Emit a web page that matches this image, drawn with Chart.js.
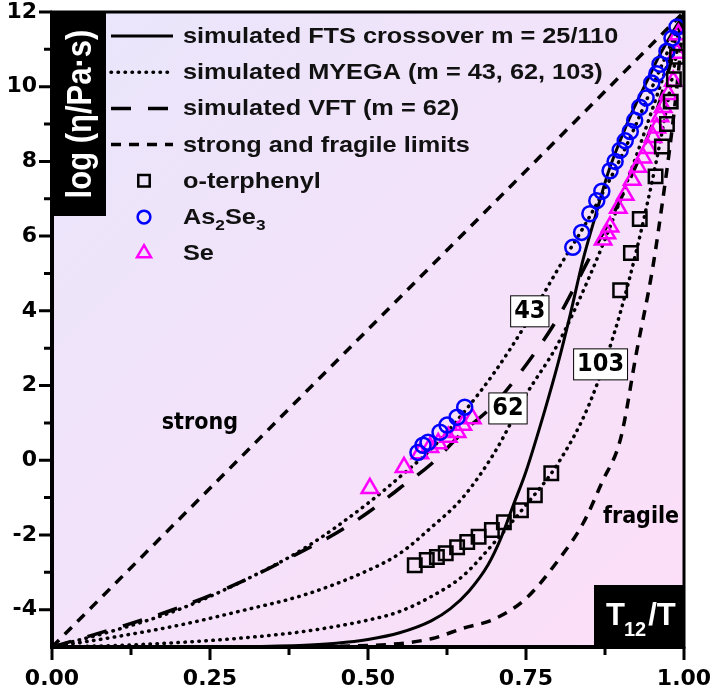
<!DOCTYPE html>
<html>
<head>
<meta charset="utf-8">
<script src="https://cdn.jsdelivr.net/npm/chart.js@4.4.1/dist/chart.umd.min.js"></script>
<style>
  html, body { margin: 0; padding: 0; background: #ffffff; }
  #wrap { width: 713px; height: 690px; }
</style>
</head>
<body>
<div id="wrap"><canvas id="chart" width="713" height="690"></canvas></div>
<script>
// axis ticks
const xTicks = [0, 0.25, 0.5, 0.75, 1];
const xTickLabels = ["0.00", "0.25", "0.50", "0.75", "1.00"];
const xMinorTicks = [0.125, 0.375, 0.625, 0.875];
const yTicks = [-4, -2, 0, 2, 4, 6, 8, 10, 12];
const yMinorTicks = [-3, -1, 1, 3, 5, 7, 9, 11];

// simulated curves
const ftsX = [0, 0.2, 0.3, 0.4, 0.45, 0.5, 0.55, 0.6, 0.63, 0.66, 0.69, 0.71, 0.73, 0.75, 0.78, 0.8, 0.82, 0.84, 0.86, 0.88, 0.9, 0.92, 0.94, 0.96, 0.98, 1.0];
const ftsY = [-5, -5, -4.99, -4.95, -4.9, -4.8, -4.62, -4.3, -3.98, -3.5, -2.8, -2.1, -1.2, -0.3, 1.35, 2.55, 3.9, 5.35, 6.55, 7.7, 8.6, 9.4, 10.1, 10.8, 11.4, 11.95];

const myega43X = [0, 0.1, 0.2, 0.3, 0.4, 0.5, 0.55, 0.6, 0.65, 0.7, 0.75, 0.8, 0.85, 0.9, 0.95, 1.0];
const myega43Y = [-5, -4.55, -4.0, -3.25, -2.35, -1.15, -0.45, 0.3, 1.25, 2.35, 3.65, 5.1, 6.5, 8.1, 10.0, 11.95];

const myega62X = [0, 0.1, 0.2, 0.3, 0.4, 0.5, 0.55, 0.6, 0.65, 0.7, 0.75, 0.8, 0.85, 0.9, 0.95, 1.0];
const myega62Y = [-5, -4.73, -4.42, -4.03, -3.6, -2.95, -2.5, -1.8, -1.0, 0.2, 1.75, 3.1, 4.9, 7.0, 9.4, 11.95];

const myega103X = [0, 0.1, 0.2, 0.3, 0.4, 0.5, 0.55, 0.6, 0.65, 0.7, 0.75, 0.8, 0.85, 0.9, 0.95, 1.0];
const myega103Y = [-5, -4.96, -4.88, -4.76, -4.58, -4.28, -4.05, -3.65, -3.1, -2.2, -1.2, -0.1, 1.5, 4.0, 7.5, 11.95];

const vftX = [0, 0.1, 0.2, 0.3, 0.4, 0.45, 0.5, 0.55, 0.6, 0.65, 0.7, 0.75, 0.8, 0.85, 0.9, 0.95, 0.975, 1.0];
const vftY = [-5, -4.5, -3.95, -3.25, -2.4, -1.95, -1.4, -0.75, -0.1, 0.75, 1.5, 2.55, 3.8, 5.4, 7.0, 9.0, 10.4, 11.95];

const strongX = [0, 0.5, 1.0];
const strongY = [-5, 3.5, 12];

const fragileX = [0, 0.3, 0.5, 0.6, 0.65, 0.7, 0.75, 0.8, 0.84, 0.87, 0.9, 0.925, 0.95, 0.965, 0.98, 0.99, 1.0];
const fragileY = [-5, -5, -4.96, -4.78, -4.5, -4.25, -3.7, -2.7, -1.7, -0.6, 0.6, 2.9, 5.1, 6.8, 8.7, 10.2, 12];

// measured data
const oTerphenylX = [0.574, 0.593, 0.609, 0.623, 0.641, 0.657, 0.675, 0.696, 0.715, 0.742, 0.764, 0.790, 0.899, 0.916, 0.930, 0.955, 0.965, 0.973, 0.979, 0.984, 0.989];
const oTerphenylY = [-2.81, -2.67, -2.59, -2.49, -2.33, -2.19, -2.05, -1.87, -1.66, -1.34, -0.94, -0.35, 4.55, 5.55, 6.46, 7.6, 8.4, 9.0, 9.6, 10.2, 10.8];

const as2se3X = [0.579, 0.587, 0.595, 0.614, 0.625, 0.641, 0.653, 0.824, 0.838, 0.851, 0.862, 0.870, 0.883, 0.891, 0.899, 0.907, 0.915, 0.922, 0.930, 0.940, 0.949, 0.957, 0.962, 0.973, 0.981, 0.989];
const as2se3Y = [0.21, 0.40, 0.48, 0.75, 0.94, 1.15, 1.42, 5.7, 6.1, 6.6, 6.95, 7.2, 7.75, 8.0, 8.3, 8.55, 8.8, 9.1, 9.45, 9.7, 10.1, 10.35, 10.6, 10.95, 11.3, 11.6];

const seX = [0.503, 0.557, 0.582, 0.598, 0.611, 0.627, 0.641, 0.650, 0.665, 0.872, 0.878, 0.883, 0.896, 0.907, 0.918, 0.927, 0.935, 0.943, 0.951, 0.957, 0.962, 0.967, 0.975, 0.983, 0.989, 0.991];
const seY = [-0.75, -0.19, 0.18, 0.35, 0.45, 0.62, 0.75, 0.94, 1.12, 5.9, 6.07, 6.25, 6.75, 7.1, 7.5, 7.85, 8.1, 8.35, 8.65, 8.9, 9.2, 9.45, 9.8, 10.15, 10.9, 11.4];

// in-plot labels, in data coordinates
const boxedLabels = [
  { text: "43", x: 0.756, y: 4.0 },
  { text: "62", x: 0.7215, y: 1.4 },
  { text: "103", x: 0.868, y: 2.58 },
];
const plainLabels = [
  { text: "strong", x: 0.234, y: 1.0 },
  { text: "fragile", x: 0.932, y: -1.52 },
];

const BOLD = '"Liberation Sans", Arial, sans-serif';
const NARROW = '"Liberation Sans Narrow", "DejaVu Sans Condensed", sans-serif';
const STRETCH = 1.15; // the figure's lettering is drawn wide

function toPoints(xs, ys) {
  return xs.map((x, i) => ({ x: x, y: ys[i] }));
}

function curve(xs, ys, dash, width, legendText) {
  return {
    data: toPoints(xs, ys),
    showLine: true,
    borderColor: "#000000",
    borderWidth: width,
    borderDash: dash,
    borderCapStyle: dash.length && dash[0] < 2 ? "round" : "butt",
    cubicInterpolationMode: "monotone",
    pointRadius: 0,
    order: 2,
    legendText: legendText,
  };
}

function markers(xs, ys, colour, style, radius, legendText) {
  return {
    data: toPoints(xs, ys),
    showLine: false,
    pointStyle: style,
    pointRadius: radius,
    pointBorderColor: colour,
    pointBackgroundColor: "rgba(0,0,0,0)",
    pointBorderWidth: 2.5,
    borderColor: colour,
    order: 0,
    legendText: legendText,
  };
}

const DOT = [0.5, 6.5];

const datasets = [
  curve(ftsX, ftsY, [], 3, "simulated FTS crossover m = 25/110"),
  curve(myega43X, myega43Y, DOT, 3.5, "simulated MYEGA (m = 43, 62, 103)"),
  curve(myega62X, myega62Y, DOT, 3.5),
  curve(myega103X, myega103Y, DOT, 3.5),
  curve(vftX, vftY, [20, 17], 3.5, "simulated VFT (m = 62)"),
  curve(strongX, strongY, [10, 8], 3.5, "strong and fragile limits"),
  curve(fragileX, fragileY, [10, 8], 3.5),
  markers(oTerphenylX, oTerphenylY, "#000000", "rect", 9.5, "o-terphenyl"),
  markers(as2se3X, as2se3Y, "#0000ff", "circle", 7.5, "As_2Se_3"),
  markers(seX, seY, "#ff00ff", "triangle", 9.5, "Se"),
];

// text with "_x" marking a subscript character; drawn in a stretched frame
function drawRichText(ctx, text, x, y, size) {
  ctx.save();
  ctx.translate(x, y);
  ctx.scale(STRETCH, 1);
  let cx = 0;
  for (let i = 0; i < text.length; i++) {
    if (text[i] === "_") {
      i++;
      ctx.font = "bold " + Math.round(size * 0.68) + "px " + BOLD;
      ctx.fillText(text[i], cx, size * 0.36);
      cx += ctx.measureText(text[i]).width;
    } else {
      let j = i;
      while (j < text.length && text[j] !== "_") j++;
      const part = text.slice(i, j);
      ctx.font = "bold " + size + "px " + BOLD;
      ctx.fillText(part, cx, 0);
      cx += ctx.measureText(part).width;
      i = j - 1;
    }
  }
  ctx.restore();
}

const backgroundPlugin = {
  id: "background",
  beforeDatasetsDraw(chart) {
    const { ctx, chartArea: a } = chart;
    const g = ctx.createLinearGradient(a.left, a.top, a.right, a.bottom);
    g.addColorStop(0, "#e9e6fb");
    g.addColorStop(1, "#fddef8");
    ctx.save();
    ctx.fillStyle = g;
    ctx.fillRect(a.left, a.top, a.right - a.left, a.bottom - a.top);
    ctx.restore();
  },
};

const decorPlugin = {
  id: "decor",
  afterDraw(chart) {
    const { ctx, chartArea: a } = chart;
    const xs = chart.scales.x;
    const ys = chart.scales.y;
    ctx.save();

    // axis title boxes
    ctx.fillStyle = "#000000";
    ctx.fillRect(a.left, a.top, 54, 204);
    ctx.fillRect(a.right - 90, a.bottom - 62, 90, 62);

    ctx.save();
    ctx.translate(a.left + 29, a.top + 102);
    ctx.rotate(-Math.PI / 2);
    ctx.scale(1, STRETCH);
    ctx.fillStyle = "#ffffff";
    ctx.textAlign = "center";
    ctx.textBaseline = "middle";
    ctx.font = "bold 31px " + BOLD;
    ctx.fillText("log (\u03b7/Pa\u00b7s)", 0, 0);
    ctx.restore();

    ctx.fillStyle = "#ffffff";
    ctx.textAlign = "left";
    ctx.textBaseline = "alphabetic";
    let tx = a.right - 78;
    const by = a.bottom - 22;
    ctx.font = "bold 31px " + BOLD;
    ctx.fillText("T", tx, by);
    tx += ctx.measureText("T").width - 1;
    ctx.font = "bold 20px " + BOLD;
    ctx.fillText("12", tx, by + 11);
    tx += ctx.measureText("12").width + 2;
    ctx.font = "bold 31px " + BOLD;
    ctx.fillText("/T", tx, by);

    // frame and axes
    ctx.strokeStyle = "#000000";
    ctx.lineWidth = 3;
    ctx.strokeRect(a.left, a.top, a.right - a.left, a.bottom - a.top);
    ctx.lineWidth = 4;
    ctx.beginPath();
    ctx.moveTo(a.left, a.top);
    ctx.lineTo(a.left, a.bottom);
    ctx.lineTo(a.right + 1, a.bottom);
    ctx.stroke();

    ctx.lineWidth = 3;
    ctx.beginPath();
    yTicks.forEach((v) => {
      const p = ys.getPixelForValue(v);
      ctx.moveTo(a.left, p);
      ctx.lineTo(a.left - 13, p);
    });
    yMinorTicks.forEach((v) => {
      const p = ys.getPixelForValue(v);
      ctx.moveTo(a.left, p);
      ctx.lineTo(a.left - 8, p);
    });
    xTicks.forEach((v) => {
      const p = xs.getPixelForValue(v);
      ctx.moveTo(p, a.bottom);
      ctx.lineTo(p, a.bottom + 13);
    });
    xMinorTicks.forEach((v) => {
      const p = xs.getPixelForValue(v);
      ctx.moveTo(p, a.bottom);
      ctx.lineTo(p, a.bottom + 8);
    });
    ctx.stroke();

    // boxed m labels and region names
    ctx.textAlign = "center";
    ctx.textBaseline = "middle";
    ctx.font = "bold 25px " + NARROW;
    boxedLabels.forEach((l) => {
      const px = xs.getPixelForValue(l.x);
      const py = ys.getPixelForValue(l.y);
      const w = ctx.measureText(l.text).width + 7;
      ctx.fillStyle = "#ffffff";
      ctx.fillRect(px - w / 2, py - 15, w, 31);
      ctx.lineWidth = 1;
      ctx.strokeStyle = "#000000";
      ctx.strokeRect(px - w / 2, py - 15, w, 31);
      ctx.fillStyle = "#000000";
      ctx.fillText(l.text, px, py + 1);
    });
    ctx.font = "bold 23px " + NARROW;
    plainLabels.forEach((l) => {
      ctx.fillStyle = "#000000";
      ctx.fillText(l.text, xs.getPixelForValue(l.x), ys.getPixelForValue(l.y));
    });

    // legend
    let rowY = a.top + 24;
    chart.data.datasets.forEach((ds) => {
      if (!ds.legendText) return;
      ctx.save();
      if (ds.showLine) {
        ctx.strokeStyle = ds.borderColor;
        ctx.lineWidth = ds.borderWidth;
        ctx.lineCap = ds.borderCapStyle;
        ctx.setLineDash(ds.borderDash);
        ctx.beginPath();
        ctx.moveTo(a.left + 59, rowY);
        ctx.lineTo(a.left + 121, rowY);
        ctx.stroke();
      } else {
        ctx.strokeStyle = ds.pointBorderColor;
        ctx.fillStyle = "rgba(0,0,0,0)";
        ctx.lineWidth = ds.pointBorderWidth;
        Chart.helpers.drawPoint(ctx, {
          pointStyle: ds.pointStyle,
          radius: ds.pointRadius * 0.85,
          rotation: 0,
          borderWidth: ds.pointBorderWidth,
        }, a.left + 92, rowY);
      }
      ctx.restore();
      ctx.fillStyle = "#111111";
      ctx.textAlign = "left";
      ctx.textBaseline = "middle";
      drawRichText(ctx, ds.legendText, a.left + 131, rowY + 1, 22);
      rowY += 36.2;
    });

    ctx.restore();
  },
};

const tickFont = { family: '"DejaVu Sans", sans-serif', size: 22, weight: "bold" };

function dropScalePadding(s) {
  s.paddingTop = 0;
  s.paddingBottom = 0;
  s.paddingLeft = 0;
  s.paddingRight = 0;
}

new Chart(document.getElementById("chart"), {
  type: "scatter",
  data: { datasets: datasets },
  plugins: [backgroundPlugin, decorPlugin],
  options: {
    responsive: false,
    animation: false,
    devicePixelRatio: 1,
    layout: { padding: { top: 11, right: 29, left: 0, bottom: 0 } },
    plugins: { legend: { display: false }, tooltip: { enabled: false } },
    scales: {
      x: {
        type: "linear",
        min: 0,
        max: 1,
        afterBuildTicks: (s) => { s.ticks = xTicks.map((v) => ({ value: v })); },
        afterFit: (s) => { s.height = 43; dropScalePadding(s); },
        grid: { display: false, drawTicks: false },
        border: { display: false },
        ticks: {
          padding: 19,
          color: "#000000",
          font: tickFont,
          autoSkip: false,
          maxRotation: 0,
          callback: (v, i) => xTickLabels[i],
        },
      },
      y: {
        type: "linear",
        min: -5,
        max: 12,
        afterBuildTicks: (s) => { s.ticks = yTicks.map((v) => ({ value: v })); },
        afterFit: (s) => { s.width = 52; dropScalePadding(s); },
        grid: { display: false, drawTicks: false },
        border: { display: false },
        ticks: {
          padding: 15,
          color: "#000000",
          font: tickFont,
          autoSkip: false,
          callback: (v) => String(v),
        },
      },
    },
  },
});
</script>
</body>
</html>
